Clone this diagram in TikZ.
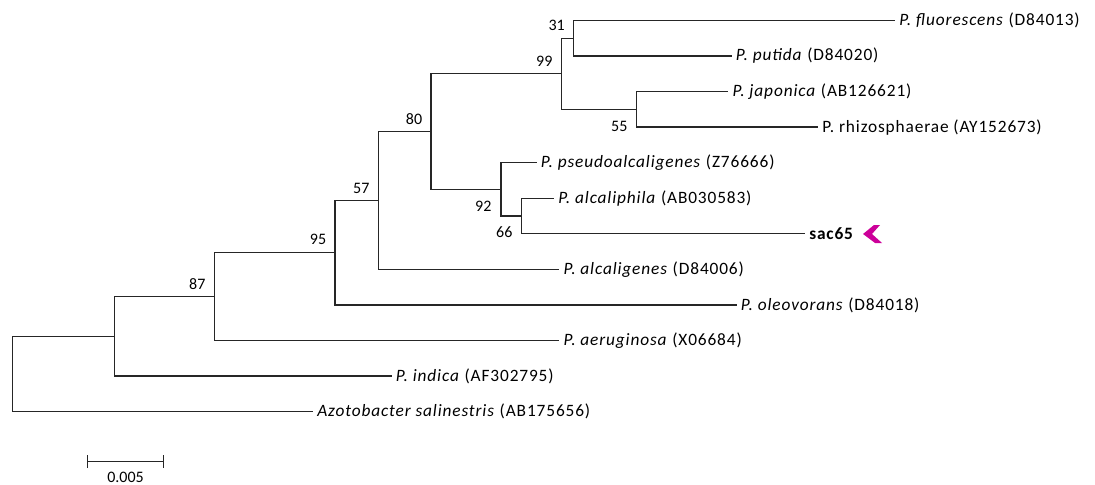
\documentclass[tikz,border=0pt]{standalone}
\usepackage{fontspec}
\setmainfont{Carlito}
\newfontfamily\leaffont[LetterSpace=5]{Carlito}
\usetikzlibrary{arrows.meta}
\usetikzlibrary{calc}
\tikzset{>=latex}
\tikzset{
    branch/.style={line width=1pt, black!85},
    leaf/.style={anchor=west, inner xsep=3pt, inner ysep=1pt, font=\leaffont\fontsize{13}{15}\selectfont},
    boot/.style={inner sep=0pt, font=\fontsize{12}{14}\selectfont},
    pointer/.style={fill={rgb,255:red,204;green,0;blue,153}},
}

\begin{document}
\begin{tikzpicture}[x=0.75pt,y=-0.75pt]

    \useasboundingbox (0,0) rectangle (1095,485);

    % internal nodes of the tree
    \coordinate (root) at (12.5,374);
    \coordinate (nA) at (114.3,336.3);
    \coordinate (n87) at (214.3,296.6);
    \coordinate (n95) at (335,252.7);
    \coordinate (n57) at (378.3,200.5);
    \coordinate (n80) at (431,131.6);
    \coordinate (n99) at (561.7,73.8);
    \coordinate (n31) at (573.3,38.3);
    \coordinate (n55) at (636.7,109.4);
    \coordinate (n92) at (501,189.4);
    \coordinate (n66) at (521.7,216);

    % leaves
    \node[leaf] (fluo) at (895,20.5) {\textit{P. fluorescens} (D84013)};
    \node[leaf] (puti) at (731.7,56) {\textit{P. putida} (D84020)};
    \node[leaf] (japo) at (728.3,91.6) {\textit{P. japonica} (AB126621)};
    \node[leaf] (rhiz) at (818,127.1) {P. rhizosphaerae (AY152673)};
    \node[leaf] (pseu) at (536.7,162.7) {\textit{P. pseudoalcaligenes} (Z76666)};
    \node[leaf] (alcp) at (554,198.2) {\textit{P. alcaliphila} (AB030583)};
    \node[leaf, font=\leaffont\fontsize{13}{15}\selectfont\bfseries] (sac) at (805,233.8) {sac65};
    \node[leaf] (alcg) at (559.3,269.4) {\textit{P. alcaligenes} (D84006)};
    \node[leaf] (oleo) at (736.7,304.9) {\textit{P. oleovorans} (D84018)};
    \node[leaf] (aeru) at (559.3,340.5) {\textit{P. aeruginosa} (X06684)};
    \node[leaf] (indi) at (391.7,376) {\textit{P. indica} (AF302795)};
    \node[leaf] (azot) at (313,411.6) {\textit{Azotobacter salinestris} (AB175656)};

    % branches
    \draw[branch] (root) |- (nA);
    \draw[branch] (root) |- (azot);
    \draw[branch] (nA) |- (n87);
    \draw[branch] (nA) |- (indi);
    \draw[branch] (n87) |- (n95);
    \draw[branch] (n87) |- (aeru);
    \draw[branch] (n95) |- (n57);
    \draw[branch] (n95) |- (oleo);
    \draw[branch] (n57) |- (n80);
    \draw[branch] (n57) |- (alcg);
    \draw[branch] (n80) |- (n99);
    \draw[branch] (n80) |- (n92);
    \draw[branch] (n99) |- (n31);
    \draw[branch] (n99) |- (n55);
    \draw[branch] (n31) |- (fluo);
    \draw[branch] (n31) |- (puti);
    \draw[branch] (n55) |- (japo);
    \draw[branch] (n55) |- (rhiz);
    \draw[branch] (n92) |- (pseu);
    \draw[branch] (n92) |- (n66);
    \draw[branch] (n66) |- (alcp);
    \draw[branch] (n66) |- (sac);

    % bootstrap values
    \node[boot] (b87) at ($(n87)+(-17,-13)$) {87};
    \node[boot] (b95) at ($(n95)+(-17,-13)$) {95};
    \node[boot] (b57) at ($(n57)+(-17,-12.5)$) {57};
    \node[boot] (b80) at ($(n80)+(-17,-12.6)$) {80};
    \node[boot] (b99) at ($(n99)+(-17.4,-12.8)$) {99};
    \node[boot] (b31) at ($(n31)+(-16.6,-12.6)$) {31};
    \node[boot] (b55) at ($(n55)+(-17.4,16.6)$) {55};
    \node[boot] (b92) at ($(n92)+(-17.7,16.6)$) {92};
    \node[boot] (b66) at ($(n66)+(-17.4,16.3)$) {66};

    % marker for the isolate
    \coordinate (tip) at (863,234);
    \fill[pointer] (tip) -- ++(11,-9) -- ++(6,0) -- ++(-8,9) -- ++(10,9) -- ++(-7,0) -- cycle;

    % scale bar
    \coordinate (s0) at (86.7,461.7);
    \coordinate (s1) at (164.3,461.7);
    \draw[branch, {Bar[width=9.5pt]}-{Bar[width=9.5pt]}] (s0) -- (s1);
    \node[boot] (scale) at ($(s0)!0.5!(s1)+(0,15.5)$) {0.005};

\end{tikzpicture}
\end{document}
